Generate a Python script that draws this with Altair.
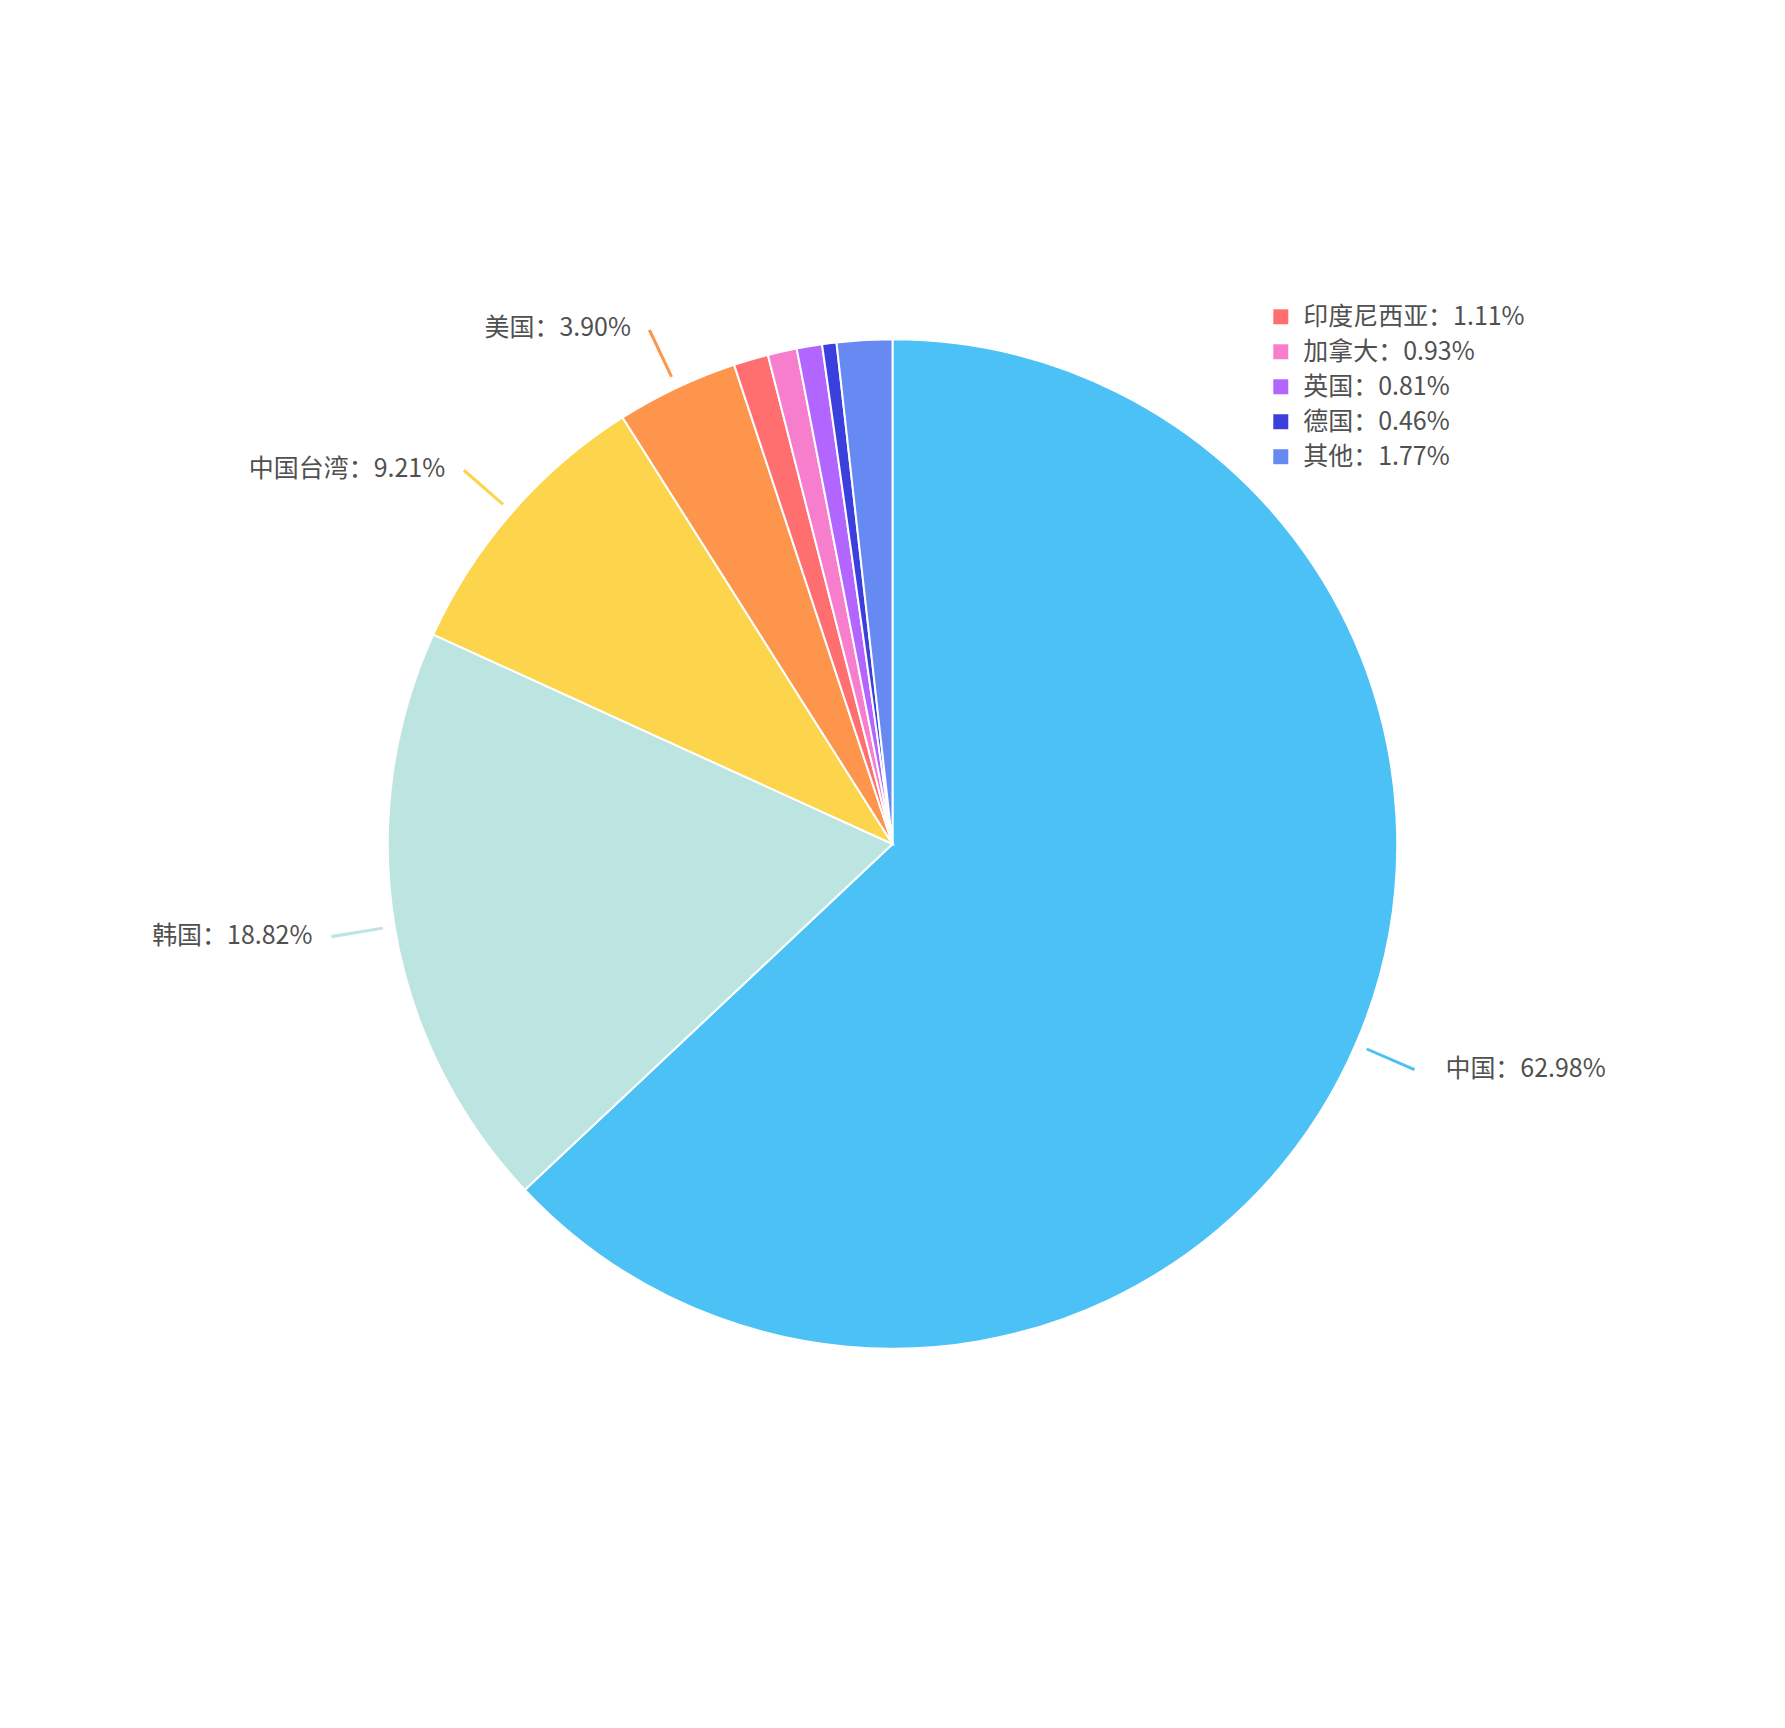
import altair as alt
import pandas as pd

# Share of the total by country/region, clockwise from 12 o'clock
names = ["中国", "韩国", "中国台湾", "美国", "印度尼西亚", "加拿大", "英国", "德国", "其他"]
shares = [62.98, 18.82, 9.21, 3.90, 1.11, 0.93, 0.81, 0.46, 1.77]
colors = ["#4BC1F6", "#BCE5E1", "#FDD54D", "#FD954C", "#FF6F6F",
          "#F77ECC", "#B266FF", "#3B3FDB", "#6789F2"]

labels = [f"{n}：{s:.2f}%" for n, s in zip(names, shares)]
df = pd.DataFrame({
    "idx": list(range(len(names))),
    "name": names,
    "share": shares,
    "label": labels,
    "col": colors,
})

total = sum(shares)
small_labels = labels[4:]          # slices listed in the legend
FONT = "Noto Sans CJK SC"
TEXT_COLOR = "#505050"
R = 505
theta_scale = alt.Scale(domain=[0, total])

base = alt.Chart(df)

pie = base.mark_arc(outerRadius=R, stroke="white", strokeWidth=2).encode(
    theta=alt.Theta("share:Q", stack=True, scale=theta_scale),
    color=alt.Color(
        "label:N",
        scale=alt.Scale(domain=labels, range=colors),
        legend=alt.Legend(
            values=small_labels, title=None, orient="none",
            legendX=1269, legendY=304,
            symbolType="square", symbolSize=225, symbolStrokeWidth=0,
            labelFont=FONT, labelFontSize=25, labelColor=TEXT_COLOR,
            labelOffset=10, rowPadding=9, padding=0, labelLimit=400,
        ),
    ),
    order=alt.Order("idx:Q"),
)

# mid-angle of each slice, for the leader lines and outside labels
mid = base.transform_window(
    cum="sum(share)", sort=[alt.SortField("idx")], frame=[None, 0]
).transform_calculate(
    mid="datum.cum - datum.share / 2",
    t1="datum.mid - 0.045",
    t2="datum.mid + 0.045",
).transform_filter("datum.idx < 4")

leaders = mid.mark_arc(innerRadius=R + 12, outerRadius=R + 64).encode(
    theta=alt.Theta("t1:Q", stack=None, scale=theta_scale),
    theta2="t2:Q",
    color=alt.Color("col:N", scale=None),
)

text_right = mid.transform_filter("datum.mid < 50").mark_text(
    radius=R + 65, align="left", baseline="middle", dx=30, dy=-1,
    font=FONT, fontSize=25, color=TEXT_COLOR,
).encode(
    theta=alt.Theta("mid:Q", stack=None, scale=theta_scale),
    text="label:N",
)

text_left = mid.transform_filter("datum.mid >= 50").mark_text(
    radius=R + 65, align="right", baseline="middle", dx=-18, dy=-1,
    font=FONT, fontSize=25, color=TEXT_COLOR,
).encode(
    theta=alt.Theta("mid:Q", stack=None, scale=theta_scale),
    text="label:N",
)

chart = alt.layer(pie, leaders, text_right, text_left).properties(
    width=1786, height=1688, padding=0, autosize="none",
    background="white",
).configure_view(stroke=None)

chart.save("out.html", embed_options={"renderer": "svg", "actions": False})
